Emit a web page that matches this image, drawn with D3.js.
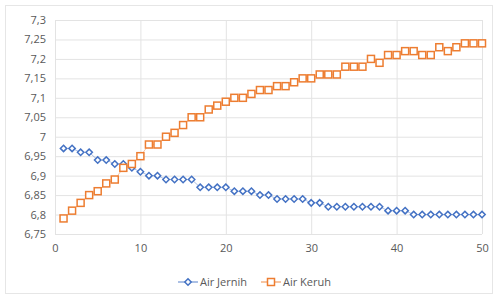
<!DOCTYPE html>
<html>
<head>
<meta charset="utf-8">
<script src="https://cdn.jsdelivr.net/npm/d3@7"></script>
<style>
  body { margin: 0; background: #fff; }
  svg text { font-family: "Open Sans", "Noto Sans", sans-serif; fill: #595959; }
</style>
</head>
<body>
<div id="chart"></div>
<script>
// data
var xValues = d3.range(1, 51);
var airJernih = [6.97, 6.97, 6.96, 6.96, 6.94, 6.94, 6.93, 6.93, 6.92, 6.91,
    6.90, 6.90, 6.89, 6.89, 6.89, 6.89, 6.87, 6.87, 6.87, 6.87,
    6.86, 6.86, 6.86, 6.85, 6.85, 6.84, 6.84, 6.84, 6.84, 6.83,
    6.83, 6.82, 6.82, 6.82, 6.82, 6.82, 6.82, 6.82, 6.81, 6.81,
    6.81, 6.80, 6.80, 6.80, 6.80, 6.80, 6.80, 6.80, 6.80, 6.80];
var airKeruh = [6.79, 6.81, 6.83, 6.85, 6.86, 6.88, 6.89, 6.92, 6.93, 6.95,
    6.98, 6.98, 7.00, 7.01, 7.03, 7.05, 7.05, 7.07, 7.08, 7.09,
    7.10, 7.10, 7.11, 7.12, 7.12, 7.13, 7.13, 7.14, 7.15, 7.15,
    7.16, 7.16, 7.16, 7.18, 7.18, 7.18, 7.20, 7.19, 7.21, 7.21,
    7.22, 7.22, 7.21, 7.21, 7.23, 7.22, 7.23, 7.24, 7.24, 7.24];
var yTicks = [6.75, 6.8, 6.85, 6.9, 6.95, 7, 7.05, 7.1, 7.15, 7.2, 7.25, 7.3];
var xTicks = [0, 10, 20, 30, 40, 50];
var seriesNames = ["Air Jernih", "Air Keruh"];

var svgWidth = 494, svgHeight = 296;
var margin = { top: 20, right: 12, bottom: 62, left: 55 };
var chartWidth = 482 - margin.left;
var chartHeight = 234 - margin.top;

var svg = d3.select("#chart").append("svg")
    .attr("width", svgWidth)
    .attr("height", svgHeight);

// outer border
svg.append("rect")
    .attr("x", 5.5).attr("y", 5.5)
    .attr("width", 487).attr("height", 288)
    .attr("fill", "none")
    .attr("stroke", "#e6e6e6");

var chartGroup = svg.append("g")
    .attr("transform", `translate(${margin.left}, ${margin.top})`);

var xScale = d3.scaleLinear().domain([0, 50]).range([0, chartWidth]);
var yScale = d3.scaleLinear().domain([6.75, 7.3]).range([chartHeight, 0]);

var fmt = d => String(+d.toFixed(2)).replace(".", ",");

// gridlines
var yAxis = d3.axisLeft(yScale).tickValues(yTicks).tickSize(-chartWidth).tickFormat(fmt).tickPadding(9);
var yG = chartGroup.append("g").call(yAxis);
yG.select(".domain").remove();
yG.selectAll("line").attr("stroke", "#e3e3e3");
yG.selectAll("text").attr("font-size", 11);

var xAxis = d3.axisBottom(xScale).tickValues(xTicks).tickSize(-chartHeight).tickFormat(d => d).tickPadding(10);
var xG = chartGroup.append("g")
    .attr("transform", `translate(0, ${chartHeight})`)
    .call(xAxis);
xG.select(".domain").remove();
xG.selectAll("line").attr("stroke", "#e3e3e3");
xG.selectAll("text").attr("font-size", 11);

var line = d3.line()
    .x((d, i) => xScale(xValues[i]))
    .y(d => yScale(d));

var blue = "#4472c4", orange = "#ed7d31";

// Air Jernih
chartGroup.append("path")
    .datum(airJernih)
    .attr("d", line)
    .attr("fill", "none")
    .attr("stroke", blue)
    .attr("stroke-opacity", 0.45)
    .attr("stroke-width", 1);

var diamond = d3.symbol().type(d3.symbolDiamond2).size(26);
chartGroup.selectAll(".jernih")
    .data(airJernih)
    .enter()
    .append("path")
    .attr("class", "jernih")
    .attr("d", diamond)
    .attr("transform", (d, i) => `translate(${xScale(xValues[i])}, ${yScale(d)})`)
    .attr("fill", "#fff")
    .attr("stroke", blue)
    .attr("stroke-width", 1.5);

// Air Keruh
chartGroup.append("path")
    .datum(airKeruh)
    .attr("d", line)
    .attr("fill", "none")
    .attr("stroke", orange)
    .attr("stroke-opacity", 0.45)
    .attr("stroke-width", 1);

chartGroup.selectAll(".keruh")
    .data(airKeruh)
    .enter()
    .append("rect")
    .attr("class", "keruh")
    .attr("x", (d, i) => xScale(xValues[i]) - 3.5)
    .attr("y", d => yScale(d) - 3.5)
    .attr("width", 7)
    .attr("height", 7)
    .attr("fill", "#fff")
    .attr("stroke", orange)
    .attr("stroke-width", 1.5);

// legend
var legend = svg.append("g").attr("transform", "translate(0, 282)");
var legendX = [178, 261];
seriesNames.forEach(function(name, i) {
    var g = legend.append("g").attr("transform", `translate(${legendX[i]}, 0)`);
    var col = i === 0 ? blue : orange;
    g.append("line")
        .attr("x1", 0).attr("x2", 20)
        .attr("stroke", col)
        .attr("stroke-opacity", 0.6)
        .attr("stroke-width", 1.5);
    if (i === 0) {
        g.append("path")
            .attr("d", diamond)
            .attr("transform", "translate(10, 0)")
            .attr("fill", "#fff")
            .attr("stroke", col)
            .attr("stroke-width", 1.5);
    } else {
        g.append("rect")
            .attr("x", 6.5).attr("y", -3.5)
            .attr("width", 7).attr("height", 7)
            .attr("fill", "#fff")
            .attr("stroke", col)
            .attr("stroke-width", 1.5);
    }
    g.append("text")
        .attr("x", 22)
        .attr("y", 4)
        .attr("font-size", 11)
        .text(name);
});
</script>
</body>
</html>
